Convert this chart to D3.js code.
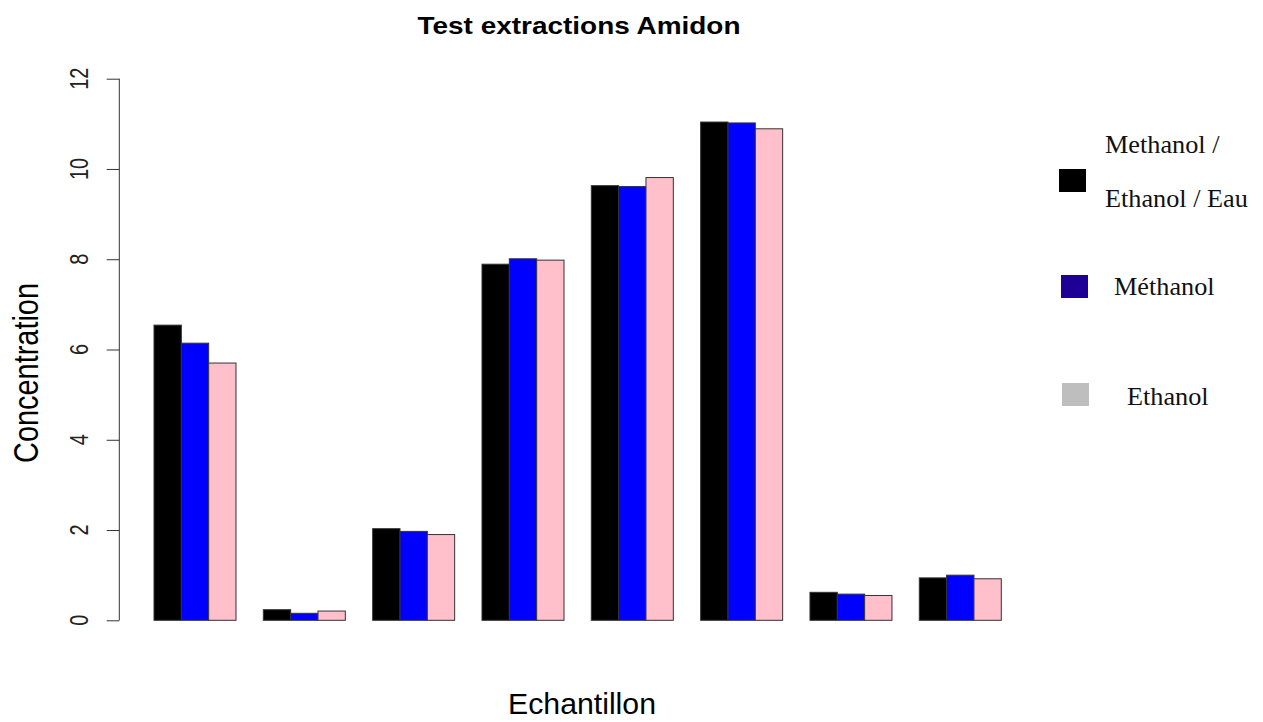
<!DOCTYPE html>
<html>
<head>
<meta charset="utf-8">
<script src="https://cdn.jsdelivr.net/npm/d3@7"></script>
<style>
  html, body { margin: 0; padding: 0; background: #ffffff; }
  svg { display: block; }
</style>
</head>
<body>
<script>
// Sample indices (no tick labels are drawn along the x axis)
const samples = ["1", "2", "3", "4", "5", "6", "7", "8"];

// Concentration per extraction solvent
const mixValues      = [6.54, 0.235, 2.03, 7.89, 9.63, 11.04, 0.62, 0.94];
const methanolValues = [6.14, 0.155, 1.97, 8.01, 9.61, 11.02, 0.58, 1.00];
const ethanolValues  = [5.70, 0.205, 1.90, 7.98, 9.81, 10.89, 0.55, 0.92];

const barColors    = ["#000000", "#0000ff", "#ffc0cb"];

// Legend entries
const legendLabels = [["Methanol /", "Ethanol / Eau"], ["Méthanol"], ["Ethanol"]];
const legendColors = ["#000000", "#1e0096", "#bebebe"];

const yTicks = [0, 2, 4, 6, 8, 10, 12];

const W = 1263, H = 722;
const svg = d3.select("body").append("svg").attr("width", W).attr("height", H);

const series = [mixValues, methanolValues, ethanolValues];
const perGroup = series.length + 1; // three bars plus one bar-width gap

// x position measured in bar widths: group g, bar k sits at g*4 + 1 + k
const x = d3.scaleLinear().domain([1, samples.length * perGroup]).range([154, 1001.3]);
const y = d3.scaleLinear().domain([0, 12]).range([620.3, 78.7]);

// Bars
const bars = [];
samples.forEach((s, g) => {
  series.forEach((vals, k) => {
    bars.push({ g, k, v: vals[g] });
  });
});
svg.append("g").selectAll("rect").data(bars).join("rect")
  .attr("x", d => x(d.g * perGroup + 1 + d.k))
  .attr("y", d => y(d.v))
  .attr("width", d => x(d.g * perGroup + 2 + d.k) - x(d.g * perGroup + 1 + d.k))
  .attr("height", d => y(0) - y(d.v))
  .attr("fill", d => barColors[d.k])
  .attr("stroke", "#333333")
  .attr("stroke-width", 1);

// Y axis
const axisG = svg.append("g").attr("transform", "translate(119.3,0)");
axisG.call(d3.axisLeft(y).tickValues(yTicks).tickSize(12.6).tickFormat(""));
axisG.select(".domain").attr("d", `M0,${y(0)}V${y(12)}`).attr("stroke", "#333333");
axisG.selectAll(".tick line").attr("stroke", "#333333");

// Rotated tick labels
svg.append("g").selectAll("text").data(yTicks).join("text")
  .attr("transform", d => `translate(88,${y(d)}) scale(1.25,1) rotate(-90)`)
  .attr("text-anchor", "middle")
  .attr("font-family", "Liberation Sans, Arial, sans-serif")
  .attr("font-size", 20)
  .attr("fill", "#222")
  .text(d => d);

// Title
svg.append("text")
  .attr("x", 579).attr("y", 33.5)
  .attr("text-anchor", "middle")
  .attr("font-family", "Liberation Sans, Arial, sans-serif")
  .attr("font-weight", "bold")
  .attr("font-size", 24)
  .attr("textLength", 323)
  .attr("lengthAdjust", "spacingAndGlyphs")
  .text("Test extractions Amidon");

// Axis titles
svg.append("text")
  .attr("x", 582).attr("y", 714)
  .attr("text-anchor", "middle")
  .attr("font-family", "Liberation Sans, Arial, sans-serif")
  .attr("font-size", 29)
  .attr("textLength", 148)
  .attr("lengthAdjust", "spacingAndGlyphs")
  .text("Echantillon");

svg.append("text")
  .attr("transform", "translate(38,373) scale(1.3,1) rotate(-90)")
  .attr("text-anchor", "middle")
  .attr("font-family", "Liberation Sans, Arial, sans-serif")
  .attr("font-size", 27)
  .attr("textLength", 180)
  .attr("lengthAdjust", "spacingAndGlyphs")
  .text("Concentration");

// Legend
const legendRows = [
  { swatch: [1059, 169], textX: 1105, lines: [153, 207] },
  { swatch: [1061, 275], textX: 1114, lines: [295] },
  { swatch: [1062, 383], textX: 1127, lines: [405] }
];
const leg = svg.append("g");
legendRows.forEach((row, i) => {
  leg.append("rect")
    .attr("x", row.swatch[0]).attr("y", row.swatch[1])
    .attr("width", 27).attr("height", 23)
    .attr("fill", legendColors[i]);
  legendLabels[i].forEach((lbl, j) => {
    leg.append("text")
      .attr("transform", `translate(${row.textX},${row.lines[j]}) scale(1.05,1)`)
      .attr("font-family", "Liberation Serif, Times New Roman, serif")
      .attr("font-size", 25)
      .attr("fill", "#111")
      .text(lbl);
  });
});
</script>
</body>
</html>
